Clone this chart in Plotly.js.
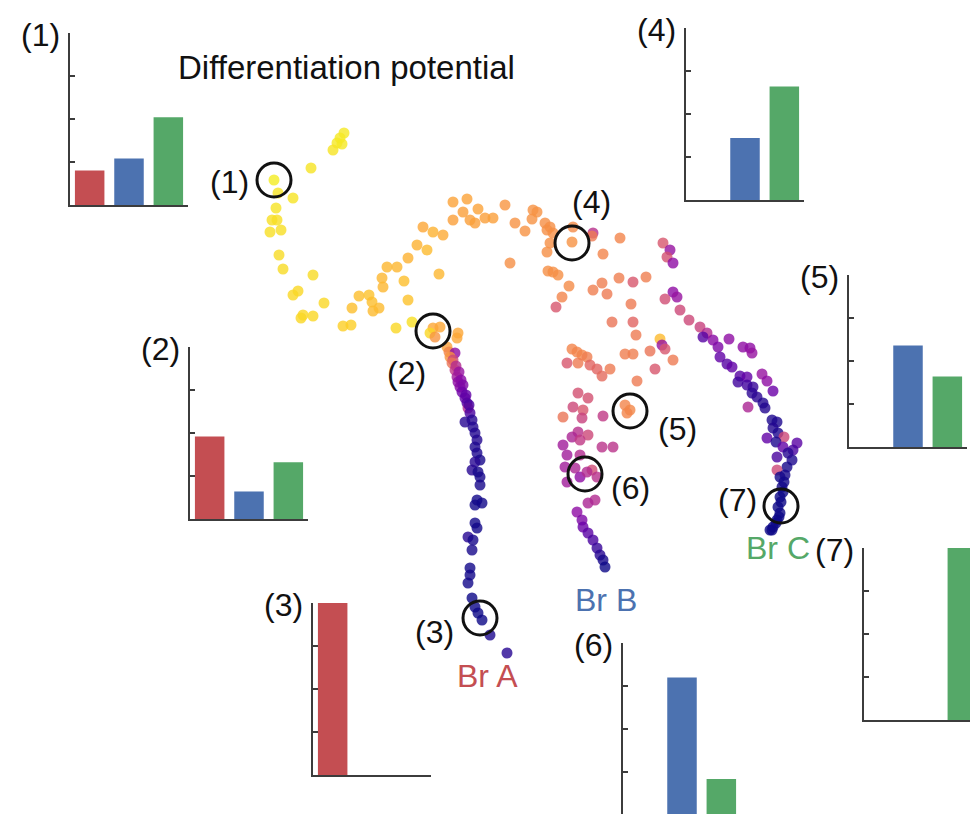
<!DOCTYPE html>
<html><head><meta charset="utf-8">
<script src="https://cdn.plot.ly/plotly-3.0.1.min.js"></script>
<style>html,body{margin:0;padding:0;background:#fff}#chart{width:970px;height:814px}</style>
</head><body><div id="chart"></div>
<script>
// ---- embedding of cells (picture units) and their pseudotime (0 = start, 1 = end of branch)
const cellX = [
 344,340,337,342,333,311,274,278,293,276,272,277,270,281,279,283,313,298,293,324,303,301,313,343,351,396,412,
 352,359,369,372,373,379,382,383,387,397,404,408,408,417,427,439,423,433,443,
 453,467,463,453,470,478,485,493,475,
 505,515,525,533,537,532,545,550,547,553,573,572,593,592,603,620,547,550,510,548,553,558,569,562,556,
 593,602,607,619,633,646,631,612,633,636,650,660,662,665,673,655,637,625,633,
 572,577,582,587,567,578,590,597,610,602,
 625,630,627,
 578,588,573,583,563,582,603,578,572,563,588,580,602,613,567,580,565,575,580,592,597,587,567,595,588,577,582,583,588,593,597,600,603,605,
 663,670,667,673,673,677,665,680,689,700,707,703,713,718,729,720,727,732,743,750,752,740,747,738,747,753,752,762,767,773,757,763,765,748,772,777,773,778,767,784,776,783,797,793,792,788,777,787,777,780,782,780,778,780,777,773,770,
 785,784,783,781,779,776,772,
 433,430,440,435,458,457,447,449,455,450,453,452,456,455,459,457,458,461,460,463,462,465,466,467,468,469,470,
 465,472,473,475,477,475,477,480,475,472,478,480,480,477,475,482,475,477,468,473,472,470,470,468,472,475,478,482,490,507
];
const cellY = [
 133,138,143,144,150,168,180,193,198,208,220,220,232,230,255,269,275,291,295,303,315,318,316,326,325,328,322,
 308,296,295,302,311,308,278,287,267,267,281,300,258,245,250,274,227,232,235,
 202,199,212,220,220,209,218,218,223,
 205,223,231,210,212,219,223,227,230,233,227,242,233,236,254,238,252,243,263,271,272,275,286,297,307,
 290,283,294,278,282,277,304,322,322,335,351,339,345,349,360,369,381,354,354,
 349,352,355,357,363,363,365,369,369,376,
 405,410,413,
 393,398,407,410,417,418,416,432,437,445,435,440,447,447,455,455,467,468,477,470,477,472,482,500,503,512,520,527,533,540,548,555,560,567,
 243,250,257,263,292,297,299,310,320,327,333,337,340,347,339,357,364,367,347,348,353,376,377,382,385,387,393,374,381,391,397,403,408,407,420,422,428,433,438,437,442,447,443,450,460,453,457,467,470,477,487,497,507,513,520,527,530,
 475,482,492,502,517,523,530,
 328,333,327,337,333,338,347,352,353,357,360,363,366,370,372,377,382,380,387,385,392,398,395,403,408,405,413,
 422,420,427,433,440,447,453,460,462,470,472,477,485,500,505,503,523,528,537,540,550,568,575,583,598,607,613,620,635,653
];
const pseudotime = [
 0.04,0.04,0.04,0.04,0.05,0.05,0.03,0.05,0.05,0.05,0.06,0.06,0.06,0.06,0.07,0.07,0.07,0.08,0.08,0.08,0.08,0.08,0.08,0.10,0.10,0.08,0.06,
 0.14,0.14,0.13,0.14,0.15,0.15,0.16,0.16,0.16,0.16,0.14,0.13,0.17,0.17,0.15,0.16,0.20,0.17,0.19,
 0.21,0.21,0.22,0.22,0.22,0.21,0.22,0.22,0.22,
 0.25,0.26,0.26,0.26,0.26,0.26,0.27,0.27,0.27,0.27,0.28,0.26,0.58,0.33,0.30,0.30,0.27,0.27,0.27,0.27,0.27,0.27,0.28,0.30,0.45,
 0.32,0.32,0.33,0.32,0.45,0.32,0.33,0.35,0.40,0.33,0.35,0.15,0.68,0.45,0.33,0.45,0.33,0.32,0.32,
 0.30,0.30,0.30,0.32,0.45,0.33,0.40,0.40,0.33,0.38,
 0.30,0.29,0.30,
 0.47,0.47,0.50,0.45,0.35,0.52,0.55,0.58,0.62,0.65,0.50,0.55,0.57,0.57,0.65,0.60,0.65,0.62,0.70,0.48,0.58,0.60,0.65,0.60,0.62,0.70,0.75,0.80,0.84,0.88,0.92,0.95,0.98,1.00,
 0.45,0.68,0.47,0.70,0.70,0.68,0.48,0.50,0.50,0.52,0.60,0.85,0.72,0.75,0.70,0.82,0.85,0.82,0.70,0.70,0.68,0.85,0.82,0.90,0.90,0.92,0.94,0.68,0.70,0.80,0.94,0.96,0.96,0.62,0.97,0.97,0.96,0.97,0.82,0.50,0.97,0.82,0.84,0.88,0.97,0.95,0.88,0.98,0.50,0.99,0.99,1.00,1.00,1.00,1.00,1.00,1.00,
 0.98,0.99,1.00,1.00,1.00,1.00,1.00,
 0.20,0.08,0.20,0.25,0.20,0.20,0.22,0.30,0.70,0.25,0.50,0.35,0.60,0.55,0.68,0.65,0.70,0.72,0.72,0.75,0.78,0.82,0.82,0.85,0.60,0.88,0.88,
 0.95,0.95,0.96,0.96,0.96,0.97,0.97,0.98,0.95,0.95,0.98,0.98,0.98,0.99,0.99,0.99,0.99,0.99,0.95,0.98,0.98,0.99,0.99,0.99,1.00,1.00,1.00,1.00,0.97,0.95
];

// ---- highlighted cells
const circleX = [274,433,480,572,630,585,781];
const circleY = [180,331,618,243,411,474,506];
const circleLabels = ['(1)','(2)','(3)','(4)','(5)','(6)','(7)'];

// ---- differentiation potential of each highlighted cell
const branches = ['Br A','Br B','Br C'];
const fateA = [0.20,0.48,1.00,0.00,0.00,0.00,0.00];
const fateB = [0.27,0.16,0.00,0.36,0.59,0.80,0.00];
const fateC = [0.51,0.33,0.00,0.66,0.41,0.21,1.00];
const probTicks = [0,0.25,0.5,0.75,1];

// ---- styling / layout
const W = 970, H = 814;
const FONT = 'Liberation Sans, Arial, Helvetica, sans-serif';
const branchColors = ['#C44E52','#4C72B0','#55A868'];
const plasmaRev = [
 [0.0,'#f0f921'],[0.1,'#fcce25'],[0.2,'#fca636'],[0.3,'#f2844b'],[0.4,'#e16462'],
 [0.5,'#cc4778'],[0.6,'#b12a90'],[0.7,'#8f0da4'],[0.8,'#6a00a8'],[0.9,'#41049d'],[1.0,'#0d0887']];
const insetPos = [[70,33],[190,347],[313,603],[686,28],[849,275],[623,643],[864,548]];
const insetW = 118, insetH = 172;
const circleLabelPos = [[229,182],[406,373],[434,632],[591,202],[677,429],[630,488],[737,500]];
const branchLabelPos = [[487,676],[606,600],[778,548]];
const AXC = '#3c3c3c';

const traces = [];
traces.push({
  type:'scatter', mode:'markers', x:cellX, y:cellY, xaxis:'x', yaxis:'y',
  marker:{size:11, color:pseudotime, cmin:0, cmax:1, colorscale:plasmaRev, opacity:0.8, line:{width:0}},
  hoverinfo:'skip', showlegend:false
});
traces.push({
  type:'scatter', mode:'markers', x:circleX, y:circleY, xaxis:'x', yaxis:'y',
  marker:{symbol:'circle-open', size:34, color:'#111', line:{width:3, color:'#111'}},
  hoverinfo:'skip', showlegend:false
});

const layout = {
  width:W, height:H, margin:{l:0,r:0,t:0,b:0},
  paper_bgcolor:'#fff', plot_bgcolor:'rgba(0,0,0,0)', showlegend:false,
  font:{family:FONT, color:'#111'},
  xaxis:{domain:[0,1], range:[0,W], visible:false, fixedrange:true},
  yaxis:{domain:[0,1], range:[H,0], visible:false, fixedrange:true},
  annotations:[]
};

insetPos.forEach((p,i)=>{
  const n = i+2;
  const left = p[0], top = p[1];
  const right = Math.min(W, left+insetW), bottom = Math.min(H, top+insetH);
  const xr = [0.5, 0.5 + 3*(right-left)/insetW];
  const yr = [1 - (bottom-top)/insetH, 1];
  layout['xaxis'+n] = {domain:[left/W, right/W], anchor:'y'+n, range:xr, showline:true, linecolor:AXC, linewidth:2,
    ticks:'', showticklabels:false, showgrid:false, zeroline:false, fixedrange:true};
  layout['yaxis'+n] = {domain:[1-bottom/H, 1-top/H], anchor:'x'+n, range:yr, showline:true, linecolor:AXC, linewidth:2,
    ticks:'inside', ticklen:5, tickwidth:1.5, tickcolor:AXC, tickvals:probTicks, showticklabels:false,
    showgrid:false, zeroline:false, fixedrange:true};
  traces.push({type:'bar', x:[1,2,3], y:[fateA[i],fateB[i],fateC[i]], width:0.75,
    marker:{color:branchColors, line:{width:0}}, xaxis:'x'+n, yaxis:'y'+n, hoverinfo:'skip', showlegend:false,
    text:branches, textposition:'none'});
  layout.annotations.push({xref:'x', yref:'y', x:left-8, y:top+2, text:circleLabels[i], showarrow:false,
    xanchor:'right', yanchor:'middle', font:{size:32, family:FONT, color:'#111'}});
});

circleLabels.forEach((t,i)=>{
  layout.annotations.push({xref:'x', yref:'y', x:circleLabelPos[i][0], y:circleLabelPos[i][1], text:t, showarrow:false,
    xanchor:'center', yanchor:'middle', font:{size:32, family:FONT, color:'#111'}});
});
branches.forEach((b,i)=>{
  layout.annotations.push({xref:'x', yref:'y', x:branchLabelPos[i][0], y:branchLabelPos[i][1], text:b, showarrow:false,
    xanchor:'center', yanchor:'middle', font:{size:32, family:FONT, color:branchColors[i]}});
});
layout.annotations.push({xref:'x', yref:'y', x:346, y:67, text:'Differentiation potential', showarrow:false,
  xanchor:'center', yanchor:'middle', font:{size:33, family:FONT, color:'#111'}});

Plotly.newPlot('chart', traces, layout, {staticPlot:true, displayModeBar:false});
</script>
</body></html>
